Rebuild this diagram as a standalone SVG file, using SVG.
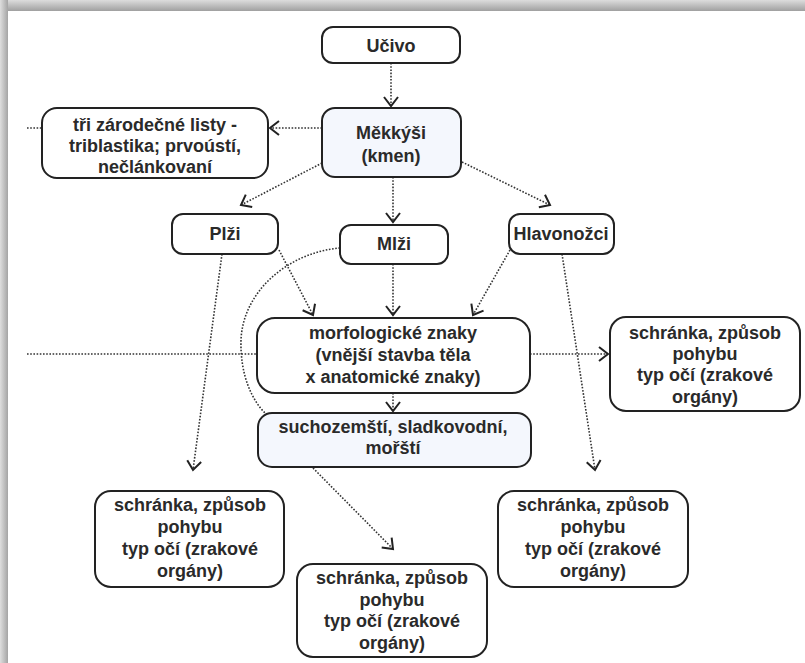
<svg xmlns="http://www.w3.org/2000/svg" width="805" height="663" viewBox="0 0 805 663">
<defs>
<linearGradient id="gTop" x1="0" y1="0" x2="0" y2="1"><stop offset="0" stop-color="#dcdcdc"/><stop offset="1" stop-color="#a0a0a0"/></linearGradient>
<linearGradient id="gLeft" x1="0" y1="0" x2="1" y2="0"><stop offset="0" stop-color="#dedede"/><stop offset="1" stop-color="#a4a4a4"/></linearGradient>
<marker id="arr" markerUnits="userSpaceOnUse" markerWidth="18" markerHeight="18" refX="10" refY="7.5" orient="auto" overflow="visible">
<path d="M1,0.5 L10,7.5 L1,14.5" fill="none" stroke="#222" stroke-width="2"/>
</marker>
<style>
.box{fill:#fff;stroke:#222;stroke-width:2}
.blue{fill:#f4f7fd}
.t{font-family:"Liberation Sans",Arial,sans-serif;font-weight:bold;font-size:18px;fill:#2a2a2a;text-anchor:middle}
.c{fill:none;stroke:#333;stroke-width:1.6;stroke-dasharray:1.6 1.6}
.a{marker-end:url(#arr)}
</style>
</defs>
<rect x="0" y="0" width="805" height="663" fill="#fff"/>
<rect x="0" y="0" width="805" height="11" fill="url(#gTop)"/>
<rect x="0" y="0" width="8" height="663" fill="url(#gLeft)"/>

<g id="connectors">
<path class="c a" d="M391,63 L391,106"/>
<path class="c a" d="M322,128 L270,128"/>
<path class="c" d="M27,128 L42,128"/>
<path class="c a" d="M322,163 L241,205"/>
<path class="c a" d="M393,177 L393,222"/>
<path class="c a" d="M462,162 L550,205"/>
<path class="c a" d="M279,250 L313,315"/>
<path class="c a" d="M393,264 L393,315"/>
<path class="c a" d="M510,250 L473,315"/>
<path class="c" d="M27,354 L257,354"/>
<path class="c a" d="M530,354 L608,354"/>
<path class="c a" d="M393,393 L393,411"/>
<path class="c" d="M340,248 C290,252 243,290 241,340 C240,375 252,400 265,413"/>
<path class="c a" d="M222,254 L193,470"/>
<path class="c a" d="M562,254 L595,470"/>
<path class="c a" d="M313,468 L393,549"/>
</g>

<g id="ucivo"><rect class="box" x="322" y="27" width="138" height="36" rx="11"/><text class="t" x="391" y="52">Učivo</text></g>
<g id="mekkysi"><rect class="box blue" x="322" y="108" width="139" height="69" rx="13"/><text class="t" x="391" y="139">Měkkýši</text><text class="t" x="391" y="162">(kmen)</text></g>
<g id="triblastika"><rect class="box" x="42" y="108" width="226" height="70" rx="15"/><text class="t" x="155" y="131">tři zárodečné listy -</text><text class="t" x="155" y="152">triblastika; prvoústí,</text><text class="t" x="155" y="173">nečlánkovaní</text></g>
<g id="plzi"><rect class="box" x="172" y="214" width="106" height="40" rx="11"/><text class="t" x="225" y="240">Plži</text></g>
<g id="mlzi"><rect class="box" x="340" y="225" width="108" height="39" rx="11"/><text class="t" x="394" y="250">Mlži</text></g>
<g id="hlavonozci"><rect class="box" x="509" y="214" width="105" height="40" rx="11"/><text class="t" x="561" y="240">Hlavonožci</text></g>
<g id="morfologie"><rect class="box" x="257" y="318" width="273" height="75" rx="18"/><text class="t" x="393" y="339">morfologické znaky</text><text class="t" x="393" y="361">(vnější stavba těla</text><text class="t" x="393" y="383">x anatomické znaky)</text></g>
<g id="schranka-prava"><rect class="box" x="610" y="317" width="190" height="94" rx="16"/><text class="t" x="705" y="339">schránka, způsob</text><text class="t" x="705" y="360">pohybu</text><text class="t" x="705" y="381">typ očí (zrakové</text><text class="t" x="705" y="403">orgány)</text></g>
<g id="prostredi"><rect class="box blue" x="258" y="413" width="273" height="54" rx="14"/><text class="t" x="393" y="433">suchozemští, sladkovodní,</text><text class="t" x="393" y="454">mořští</text></g>
<g id="schranka-leva"><rect class="box" x="95" y="491" width="189" height="96" rx="16"/><text class="t" x="190" y="511">schránka, způsob</text><text class="t" x="190" y="533">pohybu</text><text class="t" x="190" y="555">typ očí (zrakové</text><text class="t" x="190" y="577">orgány)</text></g>
<g id="schranka-stred"><rect class="box" x="297" y="564" width="190" height="93" rx="16"/><text class="t" x="392" y="584">schránka, způsob</text><text class="t" x="392" y="606">pohybu</text><text class="t" x="392" y="627">typ očí (zrakové</text><text class="t" x="392" y="649">orgány)</text></g>
<g id="schranka-spodni-prava"><rect class="box" x="498" y="491" width="190" height="96" rx="16"/><text class="t" x="593" y="511">schránka, způsob</text><text class="t" x="593" y="533">pohybu</text><text class="t" x="593" y="555">typ očí (zrakové</text><text class="t" x="593" y="577">orgány)</text></g>
</svg>
